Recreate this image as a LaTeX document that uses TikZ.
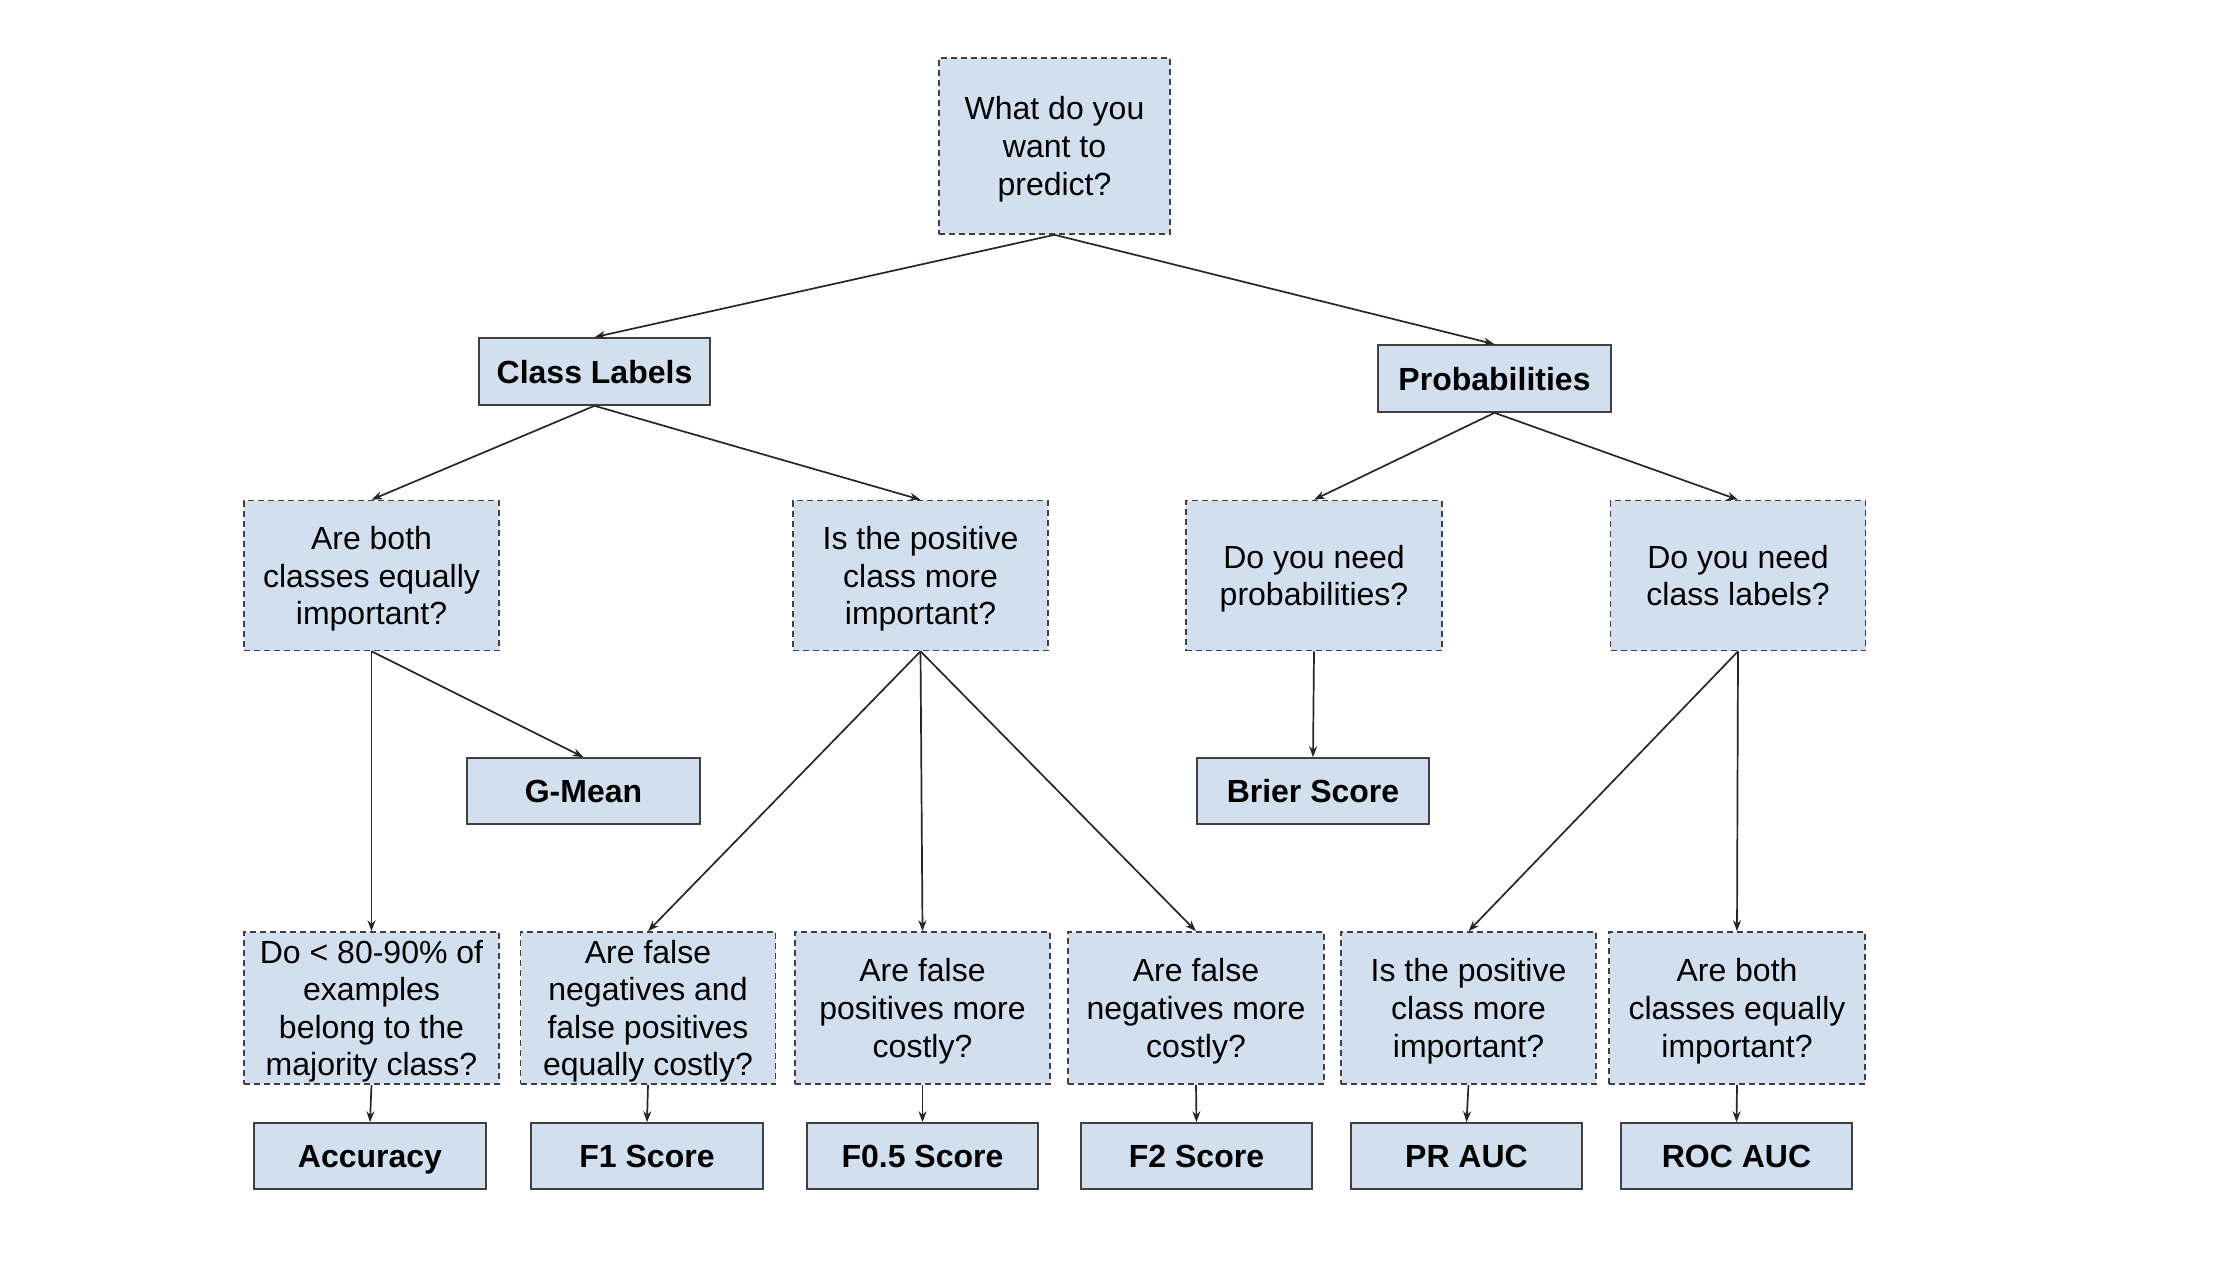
\documentclass[tikz,border=0pt]{standalone}
\usepackage{fontspec}
\setmainfont{Liberation Sans}
\usetikzlibrary{arrows.meta}
\definecolor{boxfill}{HTML}{D2DFEF}
\definecolor{boxline}{HTML}{404040}
\newcommand\ml[1]{\vbox{\halign{\hfil##\hfil\cr#1\crcr}}}
\begin{document}
\begin{tikzpicture}[x=1pt,y=-1pt,
  base/.style={draw=boxline,fill=boxfill,line width=1.6pt,inner sep=0pt,
    font=\fontsize{32}{37.6}\selectfont,text depth=0pt,text height=23pt},
  qbox/.style={base,dash pattern=on 6pt off 4pt,minimum width=255pt,minimum height=150pt},
  rbox/.style={base,minimum width=232pt,minimum height=66pt,font=\fontsize{32}{37.6}\selectfont\bfseries},
  two/.style={text height=60.6pt},
  three/.style={text height=98.2pt},
  four/.style={text height=135.8pt},
  conn/.style={draw=black!85,line width=1.7pt,-{Stealth[length=11pt,width=8pt]}}
]
\useasboundingbox (0,0) rectangle (2227,1261);
% top
\node[qbox,three,minimum width=231pt,minimum height=176pt] (top) at (1054.5,146) {\ml{What do you\cr want to\cr predict?}};
\node[rbox,minimum width=231pt,minimum height=67pt] (cl) at (594.5,371.5) {Class Labels};
\node[rbox,minimum width=233pt,minimum height=67pt] (pr) at (1494.5,378.5) {Probabilities};
% second level
\node[qbox,three] (q1) at (371.5,575.5) {\ml{Are both\cr classes equally\cr important?}};
\node[qbox,three] (q2) at (920.5,575.5) {\ml{Is the positive\cr class more\cr important?}};
\node[qbox,two,minimum width=256pt] (q3) at (1314,575.5) {\ml{Do you need\cr probabilities?}};
\node[qbox,two] (q4) at (1738,575.5) {\ml{Do you need\cr class labels?}};
% middle results
\node[rbox,minimum width=233pt] (gm) at (583.5,791) {G-Mean};
\node[rbox] (br) at (1313,791) {Brier Score};
% bottom questions
\node[qbox,four,minimum height=152pt] (b1) at (371.5,1008) {\ml{Do < 80-90\% of\cr examples\cr belong to the\cr majority class?}};
\node[qbox,four,minimum height=152pt] (b2) at (648,1008) {\ml{Are false\cr negatives and\cr false positives\cr equally costly?}};
\node[qbox,three,minimum height=152pt] (b3) at (922.5,1008) {\ml{Are false\cr positives more\cr costly?}};
\node[qbox,three,minimum height=152pt,minimum width=256pt] (b4) at (1196,1008) {\ml{Are false\cr negatives more\cr costly?}};
\node[qbox,three,minimum height=152pt] (b5) at (1468.5,1008) {\ml{Is the positive\cr class more\cr important?}};
\node[qbox,three,minimum height=152pt,minimum width=256pt] (b6) at (1737,1008) {\ml{Are both\cr classes equally\cr important?}};
% bottom results
\node[rbox] (r1) at (370,1156) {Accuracy};
\node[rbox] (r2) at (647,1156) {F1 Score};
\node[rbox,minimum width=231pt] (r3) at (922.5,1156) {F0.5 Score};
\node[rbox,minimum width=231pt] (r4) at (1196.5,1156) {F2 Score};
\node[rbox,minimum width=231pt] (r5) at (1466.5,1156) {PR AUC};
\node[rbox,minimum width=231pt] (r6) at (1736.5,1156) {ROC AUC};
% connectors
\draw[conn] (top.south) -- (cl.north);
\draw[conn] (top.south) -- (pr.north);
\draw[conn] (cl.south) -- (q1.north);
\draw[conn] (cl.south) -- (q2.north);
\draw[conn] (pr.south) -- (q3.north);
\draw[conn] (pr.south) -- (q4.north);
\draw[conn] (q1.south) -- (gm.north);
\draw[conn] (q1.south) -- (b1.north);
\draw[conn] (q2.south) -- (b2.north);
\draw[conn] (q2.south) -- (b3.north);
\draw[conn] (q2.south) -- (b4.north);
\draw[conn] (q3.south) -- (br.north);
\draw[conn] (q4.south) -- (b5.north);
\draw[conn] (q4.south) -- (b6.north);
\draw[conn] (b1.south) -- (r1.north);
\draw[conn] (b2.south) -- (r2.north);
\draw[conn] (b3.south) -- (r3.north);
\draw[conn] (b4.south) -- (r4.north);
\draw[conn] (b5.south) -- (r5.north);
\draw[conn] (b6.south) -- (r6.north);
\end{tikzpicture}
\end{document}
